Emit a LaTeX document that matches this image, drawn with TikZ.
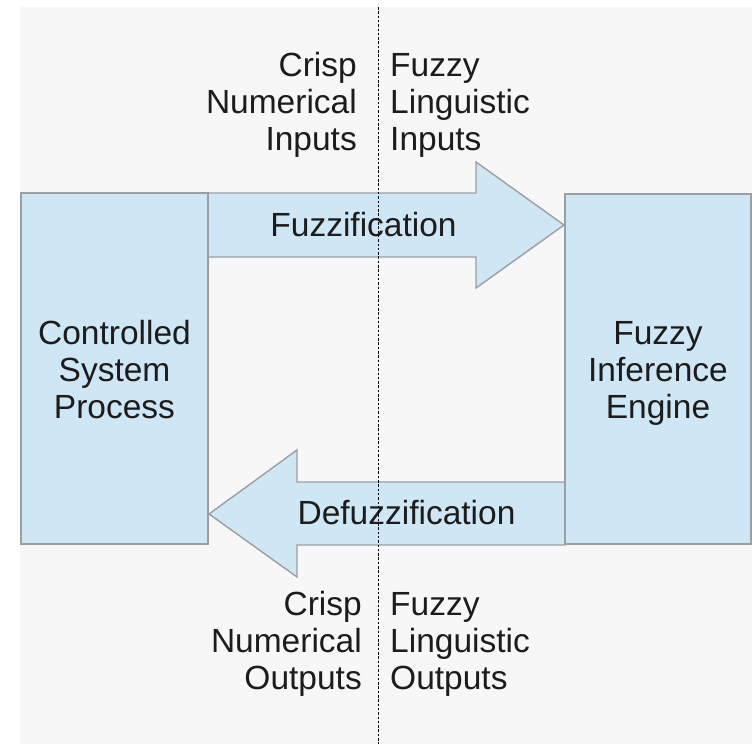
\documentclass[tikz,border=0pt]{standalone}
\usepackage{fontspec}
\setmainfont{Liberation Sans}
\definecolor{panel}{RGB}{247,247,247}
\definecolor{boxblue}{RGB}{207,230,244}
\definecolor{edgegray}{RGB}{155,158,162}
\definecolor{inkdark}{RGB}{28,28,28}
\begin{document}
\begin{tikzpicture}[x=1pt,y=-1pt,
  box/.style={draw=edgegray, fill=boxblue, line width=1.6pt, outer sep=0pt,
    inner sep=0pt},
  flow/.style={draw=edgegray, fill=boxblue, line width=1.4pt, line join=miter},
  lbl/.style={font=\fontsize{33.5}{37}\selectfont, text=inkdark, inner sep=0pt},
  divider/.style={draw=black, line width=1pt, dash pattern=on 2.5pt off 1.8pt},
]
% canvas and light panel
\fill[white] (0,0) rectangle (752,744);
\useasboundingbox (0,0) rectangle (752,744);
\fill[panel] (20,7) rectangle (752,744);

% fuzzification arrow (left to right)
\coordinate (fzA) at (208,193);
\coordinate (fzTip) at (564,225);
\path[flow] (fzA) -- (476,193) -- (476,162) -- (fzTip) -- (476,288)
  -- (476,257) -- (208,257) -- cycle;

% defuzzification arrow (right to left)
\coordinate (dfA) at (565,482);
\coordinate (dfTip) at (209,514);
\path[flow] (dfA) -- (297,482) -- (297,450) -- (dfTip) -- (297,577)
  -- (297,545) -- (565,545) -- cycle;

% the two blocks
\node[box, minimum width=187pt, minimum height=351pt] (proc) at (114.5,368.5) {};
\node[box, minimum width=186pt, minimum height=350pt] (engine) at (658,369) {};
\node[lbl, align=center, anchor=base] (procText) at (proc.center |- 0,418)
  {Controlled\\System\\Process};
\node[lbl, align=center, anchor=base] (engineText) at (engine.center |- 0,418)
  {Fuzzy\\Inference\\Engine};

% arrow captions
\node[lbl] (fuzz) at (363.5,225) {Fuzzification};
\node[lbl] (defuzz) at (406.5,512.5) {Defuzzification};

% domain labels (anchored on the baseline of the last line)
\node[lbl, align=right, anchor=base east] (crispIn) at (357,150)
  {Crisp\\Numerical\\Inputs};
\node[lbl, align=left, anchor=base west] (fuzzyIn) at (390,150)
  {Fuzzy\\Linguistic\\Inputs};
\node[lbl, align=right, anchor=base east] (crispOut) at (362,689)
  {Crisp\\Numerical\\Outputs};
\node[lbl, align=left, anchor=base west] (fuzzyOut) at (390,689)
  {Fuzzy\\Linguistic\\Outputs};

% crisp / fuzzy boundary
\coordinate (divTop) at (378.5,7);
\coordinate (divBot) at (378.5,744);
\draw[divider] (divTop) -- (divBot);
\end{tikzpicture}
\end{document}
